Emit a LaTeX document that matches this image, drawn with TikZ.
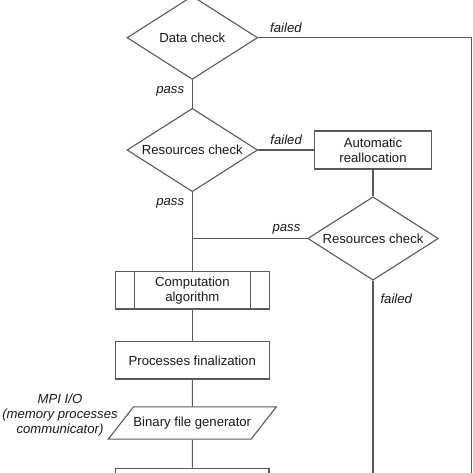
\documentclass[tikz,border=0pt]{standalone}
\usepackage{fontspec}
\setmainfont{Liberation Sans}
\usetikzlibrary{shapes.geometric,positioning}

\tikzset{
  flow/.style={draw=black!65, line width=1.1bp, text=black!90, font=\fontsize{13.2}{15}\selectfont, align=center, inner sep=0pt},
  decision/.style={flow, diamond, aspect=1.566, minimum width=130.6bp, minimum height=83.4bp},
  task/.style={flow, rectangle, minimum width=154bp, minimum height=37.3bp},
  subtask/.style={task, path picture={
      \draw[black!65, line width=1.1bp]
        ([xshift=19bp]path picture bounding box.north west) -- ([xshift=19bp]path picture bounding box.south west)
        ([xshift=-19bp]path picture bounding box.north east) -- ([xshift=-19bp]path picture bounding box.south east);}},
  io/.style={flow, trapezium, trapezium left angle=52, trapezium right angle=128, trapezium stretches body, minimum width=163bp, inner ysep=9.95bp},
  lbl/.style={font=\fontsize{13.2}{15}\selectfont\itshape, text=black!90, inner sep=2bp},
  link/.style={draw=black!65, line width=1.1bp}
}

\begin{document}
\begin{tikzpicture}[x=1bp,y=1bp,on grid,auto]
  \useasboundingbox (0,0) rectangle (473,-473);
  \clip (0,0) rectangle (473,-473);
  \node [decision] (data) at (192.3,-37.7) {Data check};
  \node [decision, below=112.3bp of data] (res_a) {Resources check};
  \node [task, minimum width=116.7bp, minimum height=38bp, right=180.7bp of res_a] (realloc) {Automatic\\reallocation};
  \node [decision, below=88.5bp of realloc] (res_b) {Resources check};
  \coordinate (join) at (res_a |- res_b);
  \node [subtask, below=140.3bp of res_a] (comp) {Computation\\algorithm};
  \node [task, below=70bp of comp] (proc) {Processes finalization};
  \node [io, below=62.7bp of proc] (bin) {Binary file generator};
  \node [task, minimum width=153.4bp, below=63.7bp of bin] (out) {};
  \node [lbl, align=center, left=132.3bp of bin, yshift=8bp] (mpi) {MPI I/O\\(memory processes\\communicator)};
  \coordinate (rim) at (471.7,-37.7);
  \coordinate (rim_end) at (471.7,-480);
  \coordinate (res_b_end) at (res_b |- rim_end);

  \path[link]
  (data) edge node [lbl, anchor=south, yshift=3bp, pos=0.13] {failed} (rim)
  (rim) edge (rim_end)
  (data) edge node [lbl, anchor=east, xshift=-5.6bp, pos=0.4] {pass} (res_a)
  (res_a) edge node [lbl, anchor=south, yshift=3bp] {failed} (realloc)
  (res_a) edge node [lbl, anchor=east, xshift=-5.6bp, pos=0.23] {pass} (join)
  (join) edge node [lbl, anchor=south, yshift=1.5bp, pos=0.82] {pass} (res_b)
  (realloc) edge (res_b)
  (res_b) edge node [lbl, anchor=west, xshift=5bp, pos=0.09] {failed} (res_b_end)
  (join) edge (comp)
  (comp) edge (proc)
  (proc) edge (bin)
  (bin) edge (out);
\end{tikzpicture}
\end{document}
